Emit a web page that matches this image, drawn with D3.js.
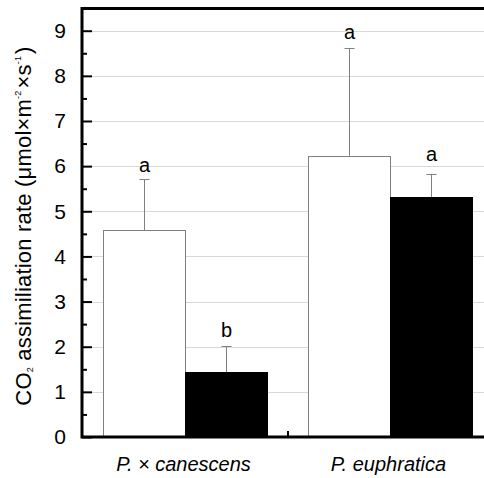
<!DOCTYPE html>
<html>
<head>
<meta charset="utf-8">
<script src="https://d3js.org/d3.v7.min.js"></script>
<style>
  body { margin: 0; background: white; }
  text { font-family: "Liberation Sans", Arial, sans-serif; }
</style>
</head>
<body>
<svg id="chart"></svg>
<script>

// data
var categories = ["P. × canescens", "P. euphratica"];
var series = ["white", "black"];
var whiteVals = [4.58, 6.23];
var blackVals = [1.44, 5.31];
var whiteErr = [1.13, 2.38];
var blackErr = [0.57, 0.52];
var whiteLetters = ["a", "a"];
var blackLetters = ["b", "a"];
var whiteLetterAt = [5.86, 8.82];
var blackLetterAt = [2.22, 6.12];
var yTicks = [0, 1, 2, 3, 4, 5, 6, 7, 8, 9];
var yMinor = [0.5, 1.5, 2.5, 3.5, 4.5, 5.5, 6.5, 7.5, 8.5];

var W = 484, H = 478;
var plotLeft = 82, plotTop = 8.5, plotBottom = 437;

var svg = d3.select("#chart").attr("width", W).attr("height", H);

var y = d3.scaleLinear().domain([0, 9]).range([plotBottom, 30.7]);
var x = d3.scaleBand().domain(categories).range([plotLeft, plotLeft + 410]).padding(0);
var xs = d3.scaleBand().domain(series).range([0, x.bandwidth()]).paddingInner(0).paddingOuter(0.25);

// gridlines
svg.append("g")
    .selectAll("line")
    .data(yTicks.slice(1))
    .enter().append("line")
    .attr("x1", plotLeft).attr("x2", W)
    .attr("y1", function(d) { return Math.round(y(d)) + 0.5; })
    .attr("y2", function(d) { return Math.round(y(d)) + 0.5; })
    .attr("stroke", "#d9d9d9")
    .attr("stroke-width", 1);

var rows = categories.map(function(c, i) {
  return [
    {cat: c, s: "white", v: whiteVals[i], e: whiteErr[i], l: whiteLetters[i], la: whiteLetterAt[i]},
    {cat: c, s: "black", v: blackVals[i], e: blackErr[i], l: blackLetters[i], la: blackLetterAt[i]}
  ];
}).flat();

function bx(d) { return x(d.cat) + xs(d.s); }
function cx(d) { return Math.round(bx(d) + xs.bandwidth() / 2) + 0.5; }

// error bars (upper only)
var eb = svg.append("g").attr("stroke", "#808080").attr("stroke-width", 1);
eb.selectAll(".stem").data(rows).enter().append("line")
    .attr("x1", cx).attr("x2", cx)
    .attr("y1", function(d) { return y(d.v); })
    .attr("y2", function(d) { return y(d.v + d.e); });
eb.selectAll(".cap").data(rows).enter().append("line")
    .attr("x1", function(d) { return cx(d) - 5; })
    .attr("x2", function(d) { return cx(d) + 5; })
    .attr("y1", function(d) { return Math.round(y(d.v + d.e)) + 0.5; })
    .attr("y2", function(d) { return Math.round(y(d.v + d.e)) + 0.5; });

// bars
svg.append("g").selectAll("rect")
    .data(rows)
    .enter().append("rect")
    .attr("x", function(d) { return Math.round(bx(d)) + 0.5; })
    .attr("y", function(d) { return Math.round(y(d.v)) + 0.5; })
    .attr("width", xs.bandwidth())
    .attr("height", function(d) { return plotBottom - Math.round(y(d.v)) - 0.5; })
    .attr("fill", function(d) { return d.s == "white" ? "#fff" : "#000"; })
    .attr("stroke", function(d) { return d.s == "white" ? "#808080" : "#000"; })
    .attr("stroke-width", 1);

// significance letters
svg.append("g").selectAll("text")
    .data(rows)
    .enter().append("text")
    .attr("x", function(d) { return bx(d) + xs.bandwidth() / 2 + 1; })
    .attr("y", function(d) { return y(d.la); })
    .attr("text-anchor", "middle")
    .style("font-size", "20px")
    .text(function(d) { return d.l; });

// y axis, major + minor ticks pointing inward
var yAxis = svg.append("g")
    .attr("transform", "translate(" + plotLeft + ",0)")
    .call(d3.axisLeft(y).tickValues(yTicks).tickSizeInner(-10).tickSizeOuter(0).tickPadding(16));
yAxis.select(".domain").remove();
yAxis.selectAll(".tick line").attr("stroke", "#000").attr("stroke-width", 2);
yAxis.selectAll(".tick text")
    .style("font-size", "21px")
    .style("font-family", "'Liberation Sans', Arial, sans-serif")
    .attr("fill", "#000");

var yMin = svg.append("g")
    .attr("transform", "translate(" + plotLeft + ",0)")
    .call(d3.axisLeft(y).tickValues(yMinor).tickSize(-5).tickFormat(""));
yMin.select(".domain").remove();
yMin.selectAll(".tick line").attr("stroke", "#000").attr("stroke-width", 2);

// category separator tick
svg.append("g").selectAll("line")
    .data(categories.slice(1))
    .enter().append("line")
    .attr("x1", function(d) { return x(d) + 1; })
    .attr("x2", function(d) { return x(d) + 1; })
    .attr("y1", plotBottom).attr("y2", plotBottom - 6)
    .attr("stroke", "#000").attr("stroke-width", 2);

// frame: left, top, bottom (right side runs off the page)
svg.append("path")
    .attr("d", "M" + W + "," + plotTop + "H" + plotLeft + "V" + plotBottom + "H" + W)
    .attr("fill", "none")
    .attr("stroke", "#000")
    .attr("stroke-width", 3);

// category labels
svg.append("g").selectAll("text")
    .data(categories)
    .enter().append("text")
    .attr("x", function(d) { return x(d) + x.bandwidth() / 2 - 1; })
    .attr("y", 471)
    .attr("text-anchor", "middle")
    .style("font-size", "20px")
    .style("font-style", "italic")
    .text(function(d) { return d; });

// y title
var t = svg.append("text")
    .attr("transform", "translate(31,226) rotate(-90)")
    .attr("text-anchor", "middle")
    .style("font-size", "22px")
    .style("letter-spacing", "0.2px");
t.append("tspan").text("CO");
t.append("tspan").attr("baseline-shift", "-20%").style("font-size", "9px").text("2");
t.append("tspan").text(" assimiliation rate (μmol×m");
t.append("tspan").attr("baseline-shift", "110%").style("font-size", "9px").text("-2");
t.append("tspan").attr("dx", 2).text("×s");
t.append("tspan").attr("baseline-shift", "110%").style("font-size", "9px").text("-1");
t.append("tspan").attr("dx", 2).text(")");

</script>
</body>
</html>
